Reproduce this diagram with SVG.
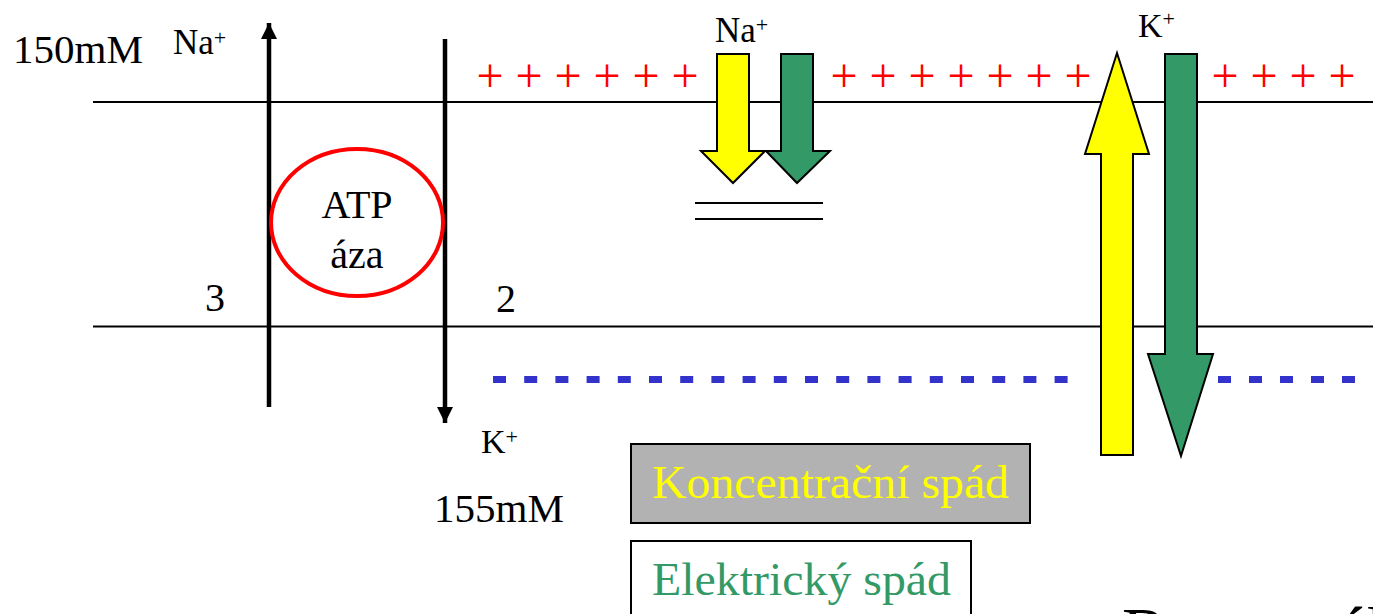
<svg xmlns="http://www.w3.org/2000/svg" width="1373" height="614" viewBox="0 0 1373 614">
<style>
text{font-family:"Liberation Serif","Times New Roman",serif;fill:#000}
.mem{stroke:#000;stroke-width:2;fill:none}
.pump{stroke:#000;stroke-width:4.5;fill:none}
.plus{fill:#FF0000;font-size:48px;text-anchor:middle}
.neg{stroke:#3333CC;stroke-width:7;fill:none;stroke-dasharray:13 18.2}
.yel{fill:#FFFF00;stroke:#000;stroke-width:2;stroke-linejoin:miter}
.grn{fill:#339966;stroke:#000;stroke-width:2;stroke-linejoin:miter}
.sup{font-size:22px}
</style>
<defs>
<marker id="ah" viewBox="0 0 16 16" refX="16" refY="8" markerWidth="16" markerHeight="16" markerUnits="userSpaceOnUse" orient="auto">
<path d="M0,0 L16,8 L0,16 Z" fill="#000"/>
</marker>
</defs>
<rect width="1373" height="614" fill="#fff"/>

<g id="membrane">
<line class="mem" x1="93" y1="102" x2="1373" y2="102"/>
<line class="mem" x1="93" y1="326.5" x2="1373" y2="326.5"/>
</g>

<g id="charges-positive">
<text class="plus" x="490 529 568 607 646 685" y="92">++++++</text>
<text class="plus" x="844 883 922 961 1000 1039 1078" y="92">+++++++</text>
<text class="plus" x="1225 1264 1303 1342" y="92">++++</text>
</g>

<g id="charges-negative">
<line class="neg" x1="493" y1="379.5" x2="1070" y2="379.5"/>
<line class="neg" x1="1218" y1="379.5" x2="1356" y2="379.5" style="stroke-dasharray:13 18"/>
</g>

<g id="connectors">
<line class="pump" x1="269" y1="407" x2="269" y2="23" marker-end="url(#ah)"/>
<line class="pump" x1="445" y1="39" x2="445" y2="423" marker-end="url(#ah)"/>
</g>

<g id="atpase">
<ellipse cx="357" cy="222.5" rx="86" ry="73.5" fill="none" stroke="#FF0000" stroke-width="4"/>
<text x="357" y="218" font-size="40" text-anchor="middle">ATP</text>
<text x="357" y="268" font-size="40" text-anchor="middle">áza</text>
</g>

<g id="label-150mM"><text x="13" y="63" font-size="41">150mM</text></g>
<g id="label-na-left"><text x="173" y="54" font-size="35">Na<tspan class="sup" dy="-9">+</tspan></text></g>
<g id="label-3"><text x="205" y="311" font-size="40">3</text></g>
<g id="label-2"><text x="496" y="312" font-size="40">2</text></g>
<g id="label-k-bottom"><text x="481" y="453" font-size="34">K<tspan class="sup" dy="-9">+</tspan></text></g>
<g id="label-155mM"><text x="434" y="522" font-size="41">155mM</text></g>

<g id="na-channel">
<text x="715" y="42" font-size="35">Na<tspan class="sup" dy="-10">+</tspan></text>
<path class="yel" d="M717,54 H749 V151 H765 L733,183 L701,151 H717 Z"/>
<path class="grn" d="M781,54 H813 V151 H830 L797,183 L766,151 H781 Z"/>
<line class="mem" x1="695" y1="203" x2="823" y2="203"/>
<line class="mem" x1="695" y1="219" x2="823" y2="219"/>
</g>

<g id="k-channel">
<text x="1138" y="37" font-size="34">K<tspan class="sup" dy="-11">+</tspan></text>
<path class="yel" d="M1117,53 L1149,154 H1133 V455 H1101 V154 H1085 Z"/>
<path class="grn" d="M1165,54 H1197 V354 H1213 L1181,456 L1148,354 H1165 Z"/>
</g>

<g id="legend-concentration">
<rect x="631" y="444" width="399" height="79" fill="#B2B2B2" stroke="#000" stroke-width="2"/>
<text x="652" y="498" font-size="47" textLength="357" lengthAdjust="spacingAndGlyphs" style="fill:#FFFF00">Koncentrační spád</text>
</g>

<g id="legend-electric">
<rect x="631" y="541" width="340" height="82" fill="#fff" stroke="#000" stroke-width="2"/>
<text x="652" y="595" font-size="47" textLength="299" lengthAdjust="spacingAndGlyphs" style="fill:#339966">Elektrický spád</text>
</g>

<g id="title-cut">
<text x="1122" y="654" font-size="68">Rovnováha</text>
</g>
</svg>
